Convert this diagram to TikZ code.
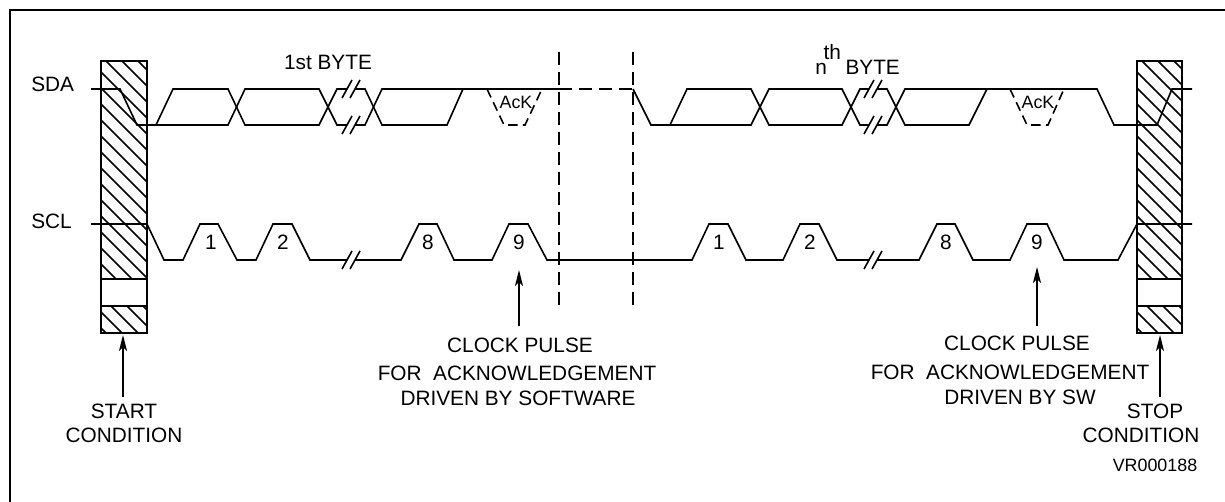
\documentclass[tikz,border=0pt]{standalone}
\usepackage{fontspec}
\setmainfont{Liberation Sans}
\usetikzlibrary{arrows.meta}
\tikzset{
  sig/.style={line width=1.2pt},
  dashV/.style={line width=1.2pt,dash pattern=on 10pt off 5pt},
  dashA/.style={line width=1.2pt,dash pattern=on 7pt off 4pt},
  ptr/.style={line width=1.2pt,-{Stealth[length=12pt,width=6pt,inset=3pt]}},
  lbl/.style={font=\fontsize{15.6}{18}\selectfont,inner sep=0pt,anchor=base},
  lblsm/.style={font=\fontsize{13.4}{16}\selectfont,inner sep=0pt,anchor=base},
}
% hatched piece of a bar: x1,x2,y1,y2
\newcommand{\hatchbar}[4]{
  \begin{scope}
    \clip(#1,#3)rectangle(#2,#4);
    \foreach \c in {-40,-24,...,340}\draw[sig](#1,\c)--(#2,\c+#2-#1);
  \end{scope}
}
\begin{document}
\begin{tikzpicture}[x=0.75pt,y=-0.75pt]
    \useasboundingbox(0,0)rectangle(1225,502);
    \draw[line width=1.8pt](10,502)--(10,10)--(1225,10);
    % bars
    \hatchbar{101}{147}{61}{279}\hatchbar{101}{147}{306}{333}
    \hatchbar{1137}{1182}{61}{279}\hatchbar{1137}{1182}{306}{333}
    \draw[sig](101,61)rectangle(147,333);\draw[sig](1137,61)rectangle(1182,333);
    \draw[line width=1.7pt](101,279)--(147,279);\draw[line width=1.7pt](1137,279)--(1182,279);
    \draw[sig](101,306)--(147,306);\draw[sig](1137,306)--(1182,306);
    % SDA
    \draw[sig](91,89)--(120,89)--(137,125)--(228,125)--(245,89)--(319,89)--(337,125)--(365,125)--(382,89)--(559,89);
    \draw[sig](156,125)--(173,89)--(228,89)--(245,125)--(319,125)--(337,89)--(365,89)--(382,125)--(447,125)--(463,89);
    \draw[dashA](487,89)--(504,125)--(525,125)--(542,89);
    \draw[dashV](559,89)--(633,89);
    \draw[sig](633,89)--(651,125)--(751,125)--(769,89)--(842,89)--(860,125)--(887,125)--(905,89)--(1097,89)--(1114,125)--(1157,125)--(1172,89)--(1192,89);
    \draw[sig](670,125)--(687,89)--(751,89)--(769,125)--(842,125)--(860,89)--(887,89)--(905,125)--(969,125)--(987,89);
    \draw[dashA](1010,89)--(1027,125)--(1048,125)--(1064,89);
    % SCL
    \draw[sig](91,224)--(147,224)--(164,260)--(183,260)--(200,224)--(218,224)--(237,260)--(256,260)--(273,224)--(292,224)--(310,260)--(401,260)--(419,224)--(437,224)--(454,260)--(492,260)--(509,224)--(528,224)--(547,260)--(692,260)--(709,224)--(728,224)--(746,260)--(783,260)--(800,224)--(819,224)--(837,260)--(919,260)--(937,224)--(955,224)--(973,260)--(1010,260)--(1027,224)--(1047,224)--(1064,260)--(1118,260)--(1137,224)--(1192,224);
    % line breaks
    \foreach \x/\y in {351/89,351/125,351/260,873/89,873/125,873/260}{
      \fill[white](\x-9,\y+9)--(\x+1,\y-9)--(\x+9,\y-9)--(\x-1,\y+9)--cycle;
      \draw[sig](\x-9,\y+9)--(\x+1,\y-9);\draw[sig](\x-1,\y+9)--(\x+9,\y-9);
    }
    \draw[dashV](559,52)--(559,307);\draw[dashV](633,52)--(633,307);
    % texts
    \node[lbl,anchor=base west](sda)at(31,92){SDA};
    \node[lbl,anchor=base west](scl)at(31,229){SCL};
    \node[lbl](byteA)at(328,70){1st BYTE};
    \node[lbl,anchor=base west](byteB)at(815,75){n\kern-2.5pt\raisebox{11.25pt}{th}\kern3.5pt BYTE};
    \node[lblsm](ackA)at(516,109){AcK};\node[lblsm](ackB)at(1038,109){AcK};
    \foreach \x/\n/\name in {211/1/pA,283/2/pB,428/8/pC,519/9/pD,719/1/pE,810/2/pF,946/8/pG,1037/9/pH}
      \node[lbl](\name)at(\x,250){\n};
    \node[lbl](startA)at(124,418){START};\node[lbl](startB)at(124,442){CONDITION};
    \node[lbl](stopA)at(1155,418){STOP};\node[lbl](stopB)at(1141,442){CONDITION};
    \node[lbl](clkA)at(520,353){CLOCK PULSE};
    \node[lbl](clkB)at(517,380){FOR~ ACKNOWLEDGEMENT};
    \node[lbl](clkC)at(518,406){DRIVEN BY SOFTWARE};
    \node[lbl](swA)at(1017,351){CLOCK PULSE};
    \node[lbl](swB)at(1010,379){FOR~ ACKNOWLEDGEMENT};
    \node[lbl](swC)at(1020,404){DRIVEN BY SW};
    \node[lblsm](vr)at(1155,471){VR000188};
    % arrows
    \coordinate(startTip)at(123,335);\coordinate(stopTip)at(1160,335);
    \coordinate(clkTip)at(519,270);\coordinate(swTip)at(1037,267);
    \draw[ptr,shorten <=4.5pt](startA.north-|startTip)--(startTip);
    \draw[ptr,shorten <=4.5pt](stopA.north-|stopTip)--(stopTip);
    \draw[ptr,shorten <=9.5pt](clkA.north-|clkTip)--(clkTip);
    \draw[ptr,shorten <=8pt](swA.north-|swTip)--(swTip);
  \end{tikzpicture}
\end{document}
